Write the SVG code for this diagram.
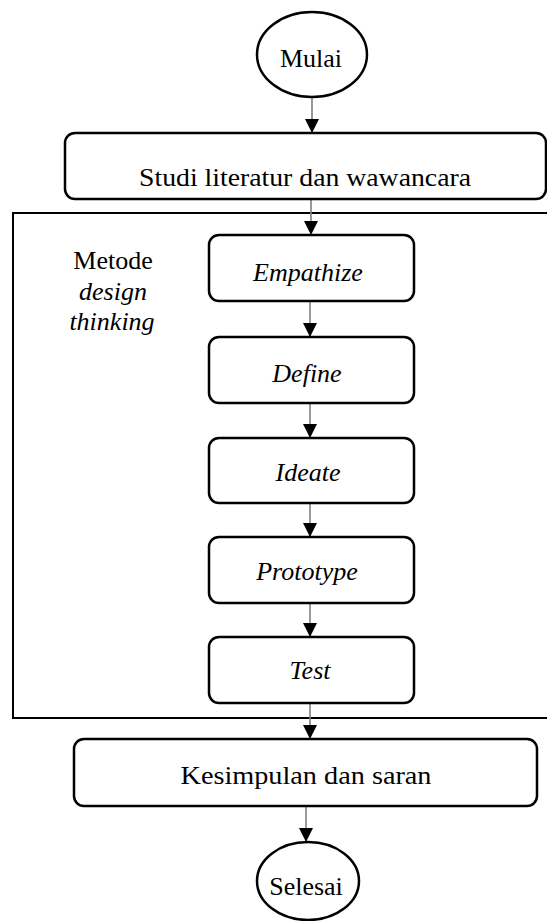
<svg xmlns="http://www.w3.org/2000/svg" width="547" height="921" viewBox="0 0 547 921">
<style>
  .box { fill: #ffffff; stroke: #000000; stroke-width: 2.5; }
  .frame { fill: none; stroke: #000000; stroke-width: 2; }
  .conn { stroke: #808080; stroke-width: 1.6; fill: none; marker-end: url(#arrow); }
  text { font-family: 'Liberation Serif', 'DejaVu Serif', 'Noto Serif', serif; font-size: 26px; fill: #000000; text-anchor: middle; }
  .it { font-style: italic; }
</style>
<defs>
  <marker id="arrow" markerUnits="userSpaceOnUse" markerWidth="16" markerHeight="14" refX="14" refY="7" orient="auto">
    <path d="M0,0 L14,7 L0,14 Z" fill="#000000"/>
  </marker>
</defs>
<rect width="547" height="921" fill="#ffffff"/>

<g id="frame-design-thinking" font-family="Liberation Serif, DejaVu Serif, serif">
  <path class="frame" d="M550,213 H13 V718 H550"/>
  <text x="113" y="269">Metode</text>
  <text class="it" x="113" y="300">design</text>
  <text class="it" x="112" y="330">thinking</text>
</g>

<g id="connectors">
  <line class="conn" x1="312" y1="97" x2="312" y2="133"/>
  <line class="conn" x1="311" y1="199" x2="311" y2="235"/>
  <line class="conn" x1="310" y1="301" x2="310" y2="337"/>
  <line class="conn" x1="310" y1="403" x2="310" y2="438"/>
  <line class="conn" x1="310" y1="503" x2="310" y2="537"/>
  <line class="conn" x1="310" y1="603" x2="310" y2="637"/>
  <line class="conn" x1="310" y1="703" x2="310" y2="739"/>
  <line class="conn" x1="306" y1="806" x2="306" y2="842"/>
</g>

<g id="mulai">
  <ellipse class="box" cx="312" cy="54.5" rx="55" ry="42.5"/>
  <text x="311" y="67">Mulai</text>
</g>

<g id="studi">
  <rect class="box" x="65" y="133" width="481" height="66" rx="10"/>
  <text x="305" y="186" font-size="27" textLength="332" lengthAdjust="spacingAndGlyphs">Studi literatur dan wawancara</text>
</g>

<g id="empathize">
  <rect class="box" x="209" y="235" width="205" height="66" rx="10"/>
  <text class="it" x="308" y="281">Empathize</text>
</g>

<g id="define">
  <rect class="box" x="209" y="337" width="205" height="66" rx="10"/>
  <text class="it" x="307" y="382">Define</text>
</g>

<g id="ideate">
  <rect class="box" x="209" y="438" width="205" height="65" rx="10"/>
  <text class="it" x="308" y="481">Ideate</text>
</g>

<g id="prototype">
  <rect class="box" x="209" y="537" width="205" height="66" rx="10"/>
  <text class="it" x="307" y="580">Prototype</text>
</g>

<g id="test">
  <rect class="box" x="209" y="637" width="205" height="66" rx="10"/>
  <text class="it" x="310" y="679">Test</text>
</g>

<g id="kesimpulan">
  <rect class="box" x="74" y="739" width="463" height="67" rx="10"/>
  <text x="306" y="784" font-size="27" textLength="251" lengthAdjust="spacingAndGlyphs">Kesimpulan dan saran</text>
</g>

<g id="selesai">
  <ellipse class="box" cx="308" cy="881" rx="51" ry="39"/>
  <text x="306" y="895">Selesai</text>
</g>
</svg>
